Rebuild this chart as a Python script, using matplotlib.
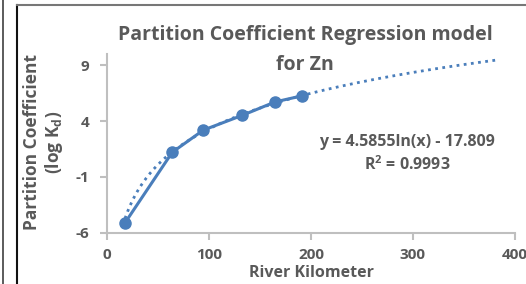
import numpy as np
import matplotlib.pyplot as plt
from matplotlib.lines import Line2D

river_km = np.array([17.4, 63.8, 94.3, 132.5, 164.7, 190.9])
log_kd = np.array([-5.1, 1.21, 3.19, 4.51, 5.71, 6.25])

a, b = 4.5855, -17.809
x_trend = np.linspace(17.4, 385, 300)
y_trend = a * np.log(x_trend) + b

blue = "#4A7EBB"
grey = "#595959"
axis_grey = "#BFBFBF"
plt.rcParams['font.family'] = ['Open Sans', 'DejaVu Sans']
plt.rcParams['axes.unicode_minus'] = False

fig = plt.figure(figsize=(5.26, 2.84), dpi=100)
ax = fig.add_axes([0.204, 0.18, 0.7745, 0.63])

ax.plot(x_trend, y_trend, linestyle=(0, (1, 1.6)), color=blue, linewidth=2)
ax.plot(river_km, log_kd, color=blue, linewidth=2.2, marker="o", markersize=8)

ax.set_xlim(0, 400)
ax.set_ylim(-6, 10)
ax.set_xticks([0, 100, 200, 300, 400])
ax.set_yticks([-6, -1, 4, 9])
for s in ["top", "right"]:
    ax.spines[s].set_visible(False)
for s in ["left", "bottom"]:
    ax.spines[s].set_color(axis_grey)
    ax.spines[s].set_linewidth(1.5)
ax.tick_params(colors=axis_grey, length=5, width=1.5, labelcolor=grey, labelsize=11, pad=8)
ax.tick_params(axis="x", pad=6)
for lbl in ax.get_xticklabels() + ax.get_yticklabels():
    lbl.set_fontweight("bold")

fig.text(0.58, 1 - 35 / 284, "Partition Coefficient Regression model", ha="center", va="center",
         fontsize=14, fontweight="bold", color=grey)
fig.text(0.58, 1 - 65 / 284, "for Zn", ha="center", va="center",
         fontsize=14, fontweight="bold", color=grey)
fig.text(0.592, 1 - 273 / 284, "River Kilometer", ha="center", va="center",
         fontsize=11.5, fontweight="bold", color=grey)
fig.text(0.084, 0.5, "Partition Coefficient\n(log K$_\\mathregular{d}$)", ha="center", va="center",
         rotation=90, fontsize=12.5, fontweight="bold", color=grey, linespacing=1.1)
fig.text(0.774, 0.5, "y = 4.5855ln(x) - 17.809", ha="center", va="center",
         fontsize=11.5, fontweight="bold", color=grey)
fig.text(0.774, 1 - 165 / 284, "R$^\\mathregular{2}$ = 0.9993", ha="center", va="center",
         fontsize=11.5, fontweight="bold", color=grey)

fig.add_artist(Line2D([2.5 / 526, 2.5 / 526], [0, 1], color="#404040", linewidth=1.2))
fig.add_artist(Line2D([16.5 / 526, 16.5 / 526], [0, 1 - 5 / 284], color="#111111", linewidth=1.5))
fig.add_artist(Line2D([16.5 / 526, 1], [1 - 5 / 284, 1 - 5 / 284], color="#777777", linewidth=1.5))

plt.savefig("out.png", dpi=100)
